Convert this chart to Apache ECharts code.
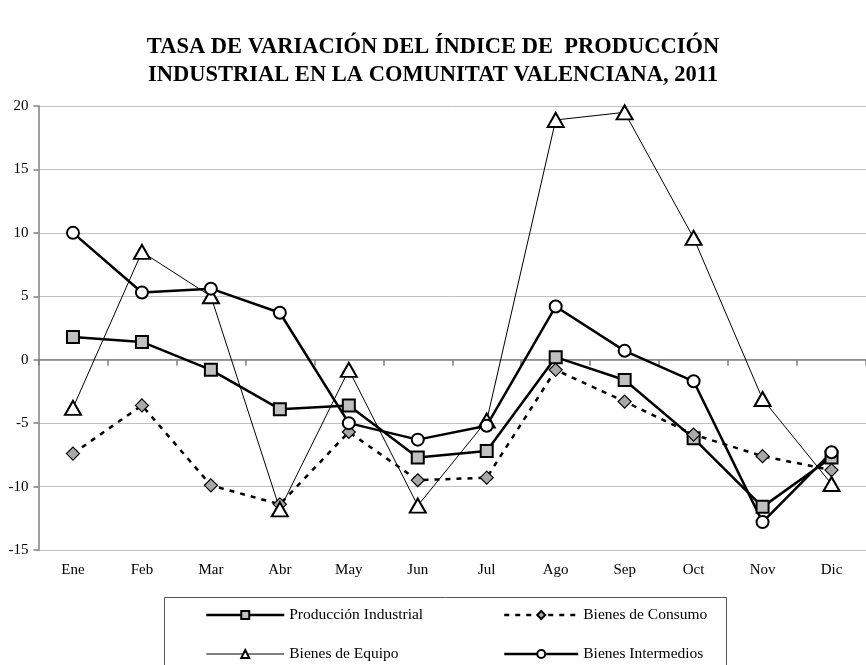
<!DOCTYPE html>
<html>
<head>
<meta charset="utf-8">
<script src="https://cdn.jsdelivr.net/npm/echarts@6/dist/echarts.min.js"></script>
<style>html,body{margin:0;padding:0;background:#fff}#c{width:866px;height:665px}</style>
</head>
<body>
<div id="c"></div>
<script>
var categories = ['Ene','Feb','Mar','Abr','May','Jun','Jul','Ago','Sep','Oct','Nov','Dic'];
var produccionIndustrial = [1.8, 1.4, -0.8, -3.9, -3.6, -7.7, -7.2, 0.2, -1.6, -6.2, -11.6, -7.7];
var bienesConsumo = [-7.4, -3.6, -9.9, -11.4, -5.7, -9.5, -9.3, -0.8, -3.3, -5.9, -7.6, -8.7];
var bienesEquipo = [-3.8, 8.5, 5.0, -11.8, -0.8, -11.5, -4.8, 18.9, 19.5, 9.6, -3.1, -9.8];
var bienesIntermedios = [10.0, 5.3, 5.6, 3.7, -5.0, -6.3, -5.2, 4.2, 0.7, -1.7, -12.8, -7.3];
var yTicks = [-15, -10, -5, 0, 5, 10, 15, 20];

var serif = '"Liberation Serif", "Times New Roman", serif';
var chart = echarts.init(document.getElementById('c'), null, {renderer: 'canvas'});
chart.setOption({
  backgroundColor: '#fff',
  animation: false,
  title: {
    text: 'TASA DE VARIACIÓN DEL ÍNDICE DE  PRODUCCIÓN\nINDUSTRIAL EN LA COMUNITAT VALENCIANA, 2011',
    left: 'center',
    top: 28,
    textStyle: {fontFamily: serif, fontWeight: 'bold', fontSize: 22.5, lineHeight: 28, color: '#000', align: 'center'}
  },
  grid: {left: 38.5, right: -11, top: 106, bottom: 115, containLabel: false},
  xAxis: [{
    type: 'category', data: categories, position: 'bottom', boundaryGap: true,
    axisLine: {show: false, onZero: false}, axisTick: {show: false},
    axisLabel: {fontFamily: serif, fontSize: 15, color: '#000', margin: 13, interval: 0},
    splitLine: {show: false}
  }, {
    type: 'category', data: categories, position: 'top', boundaryGap: true,
    axisLine: {show: true, onZero: true, lineStyle: {color: '#808080', width: 1.5}},
    axisTick: {show: true, inside: true, length: 6, interval: 0, lineStyle: {color: '#808080', width: 1.5}},
    axisLabel: {show: false}, splitLine: {show: false}
  }],
  yAxis: {
    type: 'value', min: -15, max: 20, interval: 5,
    axisLine: {show: true, onZero: false, lineStyle: {color: '#808080', width: 1.5}},
    axisTick: {show: true, length: 5, lineStyle: {color: '#808080', width: 1.5}},
    axisLabel: {fontFamily: serif, fontSize: 15, color: '#000', margin: 10,
      formatter: function (v) { return yTicks.indexOf(v) >= 0 ? String(v) : ''; }},
    splitLine: {show: true, lineStyle: {color: '#c0c0c0', width: 1}}
  },
  legend: [{
    orient: 'vertical', left: 205, top: 607, height: 120, padding: 0,
    itemWidth: 78, itemHeight: 10, itemGap: 23,
    data: [
      {name: 'Producción Industrial', lineStyle: {width: 2.5, color: '#000'}},
      {name: 'Bienes de Equipo', lineStyle: {width: 1, color: '#000'}}
    ],
    textStyle: {fontFamily: serif, fontSize: 15.5, color: '#000'}
  }, {
    orient: 'vertical', left: 503, top: 607, height: 120, padding: 0,
    itemWidth: 74, itemHeight: 10, itemGap: 23,
    data: [
      {name: 'Bienes de Consumo', lineStyle: {width: 2.5, color: '#000', type: [5, 6]}},
      {name: 'Bienes Intermedios', lineStyle: {width: 2.5, color: '#000'}}
    ],
    textStyle: {fontFamily: serif, fontSize: 15.5, color: '#000'}
  }],
  graphic: [{
    type: 'rect', shape: {x: 164.5, y: 597.5, width: 562, height: 100},
    style: {fill: 'none', stroke: '#555', lineWidth: 1}, silent: true, z: 100
  }],
  series: [{
    name: 'Producción Industrial', type: 'line', data: produccionIndustrial,
    symbol: 'rect', symbolSize: 12,
    lineStyle: {color: '#000', width: 2.5},
    itemStyle: {color: '#c0c0c0', borderColor: '#000', borderWidth: 2}
  }, {
    name: 'Bienes de Consumo', type: 'line', data: bienesConsumo,
    symbol: 'diamond', symbolSize: 13,
    lineStyle: {color: '#000', width: 2.5, type: [5, 6]},
    itemStyle: {color: '#a8a8a8', borderColor: '#000', borderWidth: 1.2}
  }, {
    name: 'Bienes de Equipo', type: 'line', data: bienesEquipo,
    symbol: 'triangle', symbolSize: [16, 14],
    lineStyle: {color: '#000', width: 1},
    itemStyle: {color: '#fff', borderColor: '#000', borderWidth: 2}
  }, {
    name: 'Bienes Intermedios', type: 'line', data: bienesIntermedios,
    symbol: 'circle', symbolSize: 12,
    lineStyle: {color: '#000', width: 2.5},
    itemStyle: {color: '#fff', borderColor: '#000', borderWidth: 2}
  }]
});
</script>
</body>
</html>
